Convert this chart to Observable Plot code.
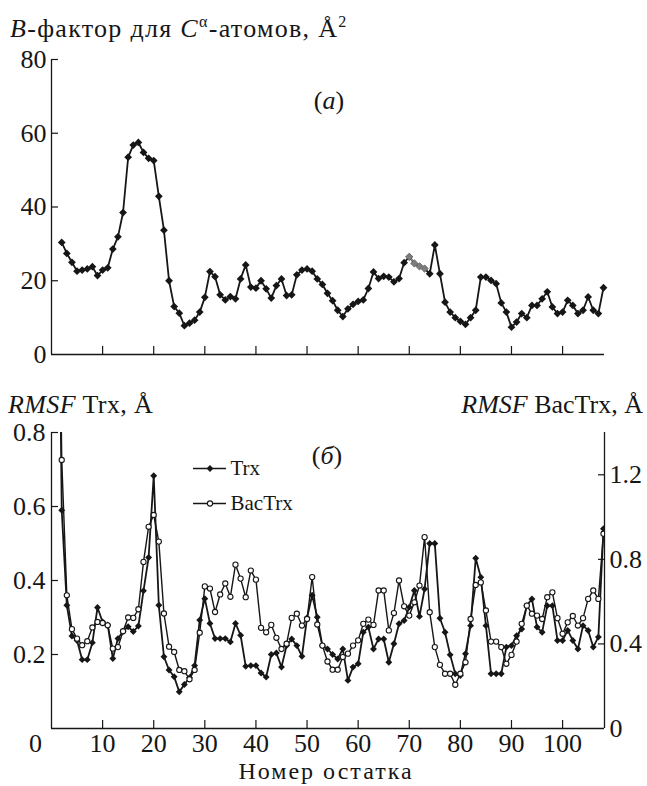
<!DOCTYPE html>
<html><head><meta charset="utf-8">
<script src="https://cdn.jsdelivr.net/npm/d3@7"></script>
<script src="https://cdn.jsdelivr.net/npm/@observablehq/plot@0.6"></script>
<style>
body{margin:0;background:#fff;}
#root{position:relative;width:647px;height:786px;overflow:hidden;font-family:"Liberation Serif","Times New Roman",serif;color:#161616;}
.lbl{position:absolute;white-space:nowrap;font-size:26px;line-height:1;}
.lbl sup{font-size:0.62em;line-height:0;position:relative;top:-0.05em;}
.abs{position:absolute;}
</style></head><body><div id="root"></div>
<script>
// ---------- data ----------
const topFirstResidue = 2;
const bFactor = [30.4,27.4,25,22.6,22.9,23.2,23.8,21.4,22.9,23.5,28.6,31.9,38.5,53.5,56.8,57.5,54.8,53.2,52.6,42.9,
  33.7,20,13,11.2,7.8,8.5,9.3,11.5,15.5,22.5,21.1,16.2,14.8,15.7,15.1,20.5,24.3,18.3,18,20,
  17.8,15.3,18.7,20.5,16,16.2,21.6,22.9,23.2,22.6,20.5,19,16.6,14.6,12,10.3,12.4,13.6,14.4,14.8,
  17.9,22.4,20.6,21.2,21,19.7,20.6,24.9,26.5,24.7,23.9,23.3,21.9,29.7,21.9,14.2,11.5,10,9,8.2,
  10,12,21,21,20.1,19.2,14,11.5,7.4,8.8,11.1,10,13.3,13.3,15.1,17,12.9,11.1,11.5,14.7,
  13.3,11.1,12,15.6,12,11.1,18.1];
const highlightedResidues = [70,71,72,73];

const rmsfFirstResidue = 1;
const trxRmsf = [1.9,0.59,0.333,0.25,0.238,0.186,0.186,0.232,0.327,0.288,0.28,0.189,0.243,0.263,0.275,0.262,0.277,0.372,0.462,0.683,
  0.333,0.194,0.158,0.14,0.099,0.119,0.137,0.17,0.293,0.351,0.284,0.243,0.243,0.243,0.234,0.284,0.252,0.168,0.17,0.17,
  0.15,0.139,0.2,0.204,0.166,0.224,0.242,0.224,0.195,0.299,0.36,0.301,0.224,0.215,0.2,0.188,0.215,0.13,0.166,0.175,
  0.26,0.274,0.215,0.242,0.242,0.179,0.229,0.283,0.292,0.328,0.373,0.303,0.377,0.5,0.5,0.298,0.26,0.199,0.148,0.143,
  0.202,0.278,0.46,0.409,0.278,0.148,0.148,0.148,0.22,0.224,0.251,0.269,0.332,0.35,0.274,0.26,0.332,0.332,0.238,0.238,
  0.265,0.238,0.215,0.278,0.265,0.22,0.247,0.54];
const bacTrxRmsf = [3.2,1.27,0.63,0.47,0.425,0.394,0.413,0.478,0.504,0.499,0.488,0.378,0.385,0.46,0.525,0.523,0.564,0.788,0.954,1.01,
  0.884,0.544,0.387,0.362,0.277,0.271,0.233,0.277,0.453,0.672,0.662,0.551,0.634,0.686,0.623,0.775,0.709,0.621,0.747,0.704,
  0.476,0.455,0.49,0.429,0.376,0.401,0.523,0.543,0.487,0.518,0.716,0.492,0.392,0.317,0.278,0.278,0.338,0.354,0.392,0.417,
  0.495,0.515,0.49,0.653,0.653,0.464,0.546,0.7,0.578,0.534,0.597,0.676,0.905,0.55,0.385,0.301,0.259,0.259,0.207,0.259,
  0.313,0.518,0.679,0.691,0.558,0.411,0.411,0.385,0.306,0.348,0.411,0.495,0.581,0.543,0.534,0.518,0.621,0.644,0.522,0.448,
  0.502,0.532,0.487,0.522,0.613,0.653,0.613,0.921];

const seriesNames = ["Trx", "BacTrx"];
const xTicks = [10,20,30,40,50,60,70,80,90,100];
const bTicks = [0,20,40,60,80];
const leftTicks = [0.2,0.4,0.6,0.8];
const rightTicks = [0,0.4,0.8,1.2];
const xMax = 108.2;
const leftMax = 0.8, rightMax = 1.4;

// ---------- build ----------
const ink = "#161616";
const grey = "#7c7c7c";
const ratio = rightMax / leftMax;
const font = "'Liberation Serif','Times New Roman',serif";
const root = document.getElementById("root");

function place(node, left, top) {
  const wrap = document.createElement("div");
  wrap.className = "abs";
  wrap.style.left = left + "px";
  wrap.style.top = top + "px";
  wrap.appendChild(node);
  root.appendChild(wrap);
}
function label(html, css) {
  const d = document.createElement("div");
  d.className = "lbl";
  d.innerHTML = html;
  Object.assign(d.style, css);
  root.appendChild(d);
}

const topData = bFactor.map((v, i) => ({res: topFirstResidue + i, v}));
const greyData = topData.filter(d => highlightedResidues.includes(d.res));

const topPlot = Plot.plot({
  width: 647, height: 372,
  marginLeft: 51, marginRight: 43, marginTop: 59, marginBottom: 18,
  x: {domain: [0, xMax]},
  y: {domain: [0, 80]},
  style: {fontFamily: font, fontSize: "26px", color: ink, background: "transparent", overflow: "visible"},
  marks: [
    Plot.axisY(bTicks, {tickSize: 0, tickPadding: 5, label: null}),
    Plot.axisY(bTicks.filter(t => t > 0), {tickSize: 7, dx: 7, fill: "none", label: null, strokeWidth: 1.2}),
    Plot.axisX(xTicks, {tickSize: 8, dy: -8, fill: "none", label: null, strokeWidth: 1.2}),
    Plot.ruleX([0], {stroke: ink, strokeWidth: 1.3}),
    Plot.ruleY([0], {stroke: ink, strokeWidth: 1.3}),
    Plot.line(topData, {x: "res", y: "v", stroke: ink, strokeWidth: 1.8}),
    Plot.line(greyData, {x: "res", y: "v", stroke: grey, strokeWidth: 1.8}),
    Plot.dot(topData, {x: "res", y: "v", symbol: "diamond2", r: 3.5, fill: ink, stroke: "none"}),
    Plot.dot(greyData, {x: "res", y: "v", symbol: "diamond2", r: 3.5, fill: grey, stroke: "none"})
  ]
});
place(topPlot, 0, 0);

const trxData = trxRmsf.map((v, i) => ({res: rmsfFirstResidue + i, v}));
const bacData = bacTrxRmsf.map((v, i) => ({res: rmsfFirstResidue + i, v}));
const fmt1 = d => { const r = Math.round(d * ratio * 10) / 10; return r === 0 ? "0" : r.toFixed(1); };

const botPlot = Plot.plot({
  width: 647, height: 406,
  marginLeft: 51, marginRight: 43, marginTop: 52, marginBottom: 58,
  x: {domain: [0, xMax]},
  y: {domain: [0, leftMax]},
  style: {fontFamily: font, fontSize: "26px", color: ink, background: "transparent", overflow: "visible"},
  marks: [
    Plot.axisY(leftTicks, {tickSize: 0, tickPadding: 6, label: null, tickFormat: d3.format(".1f")}),
    Plot.axisY(leftTicks, {tickSize: 7, dx: 7, fill: "none", label: null, strokeWidth: 1.2}),
    Plot.axisY(rightTicks.map(t => t / ratio), {anchor: "right", tickSize: 0, tickPadding: 5, label: null, tickFormat: fmt1}),
    Plot.axisY(rightTicks.filter(t => t > 0).map(t => t / ratio), {anchor: "right", tickSize: 7, dx: -7, fill: "none", label: null, strokeWidth: 1.2}),
    Plot.axisX(xTicks, {tickSize: 0, tickPadding: 5, label: null}),
    Plot.axisX([0], {tickSize: 0, tickPadding: 5, dx: -16, label: null}),
    Plot.axisX(xTicks, {tickSize: 8, dy: -8, fill: "none", label: null, strokeWidth: 1.2}),
    Plot.ruleX([0], {stroke: ink, strokeWidth: 1.3}),
    Plot.ruleX([xMax], {stroke: ink, strokeWidth: 1.3}),
    Plot.ruleY([0], {stroke: ink, strokeWidth: 1.3}),
    Plot.line(bacData, {x: "res", y: d => d.v / ratio, stroke: ink, strokeWidth: 1.4, clip: true}),
    Plot.line(trxData, {x: "res", y: "v", stroke: ink, strokeWidth: 1.8, clip: true}),
    Plot.dot(trxData, {x: "res", y: "v", symbol: "diamond2", r: 3.1, fill: ink, stroke: "none", clip: true}),
    Plot.dot(bacData, {x: "res", y: d => d.v / ratio, symbol: "circle", r: 2.6, fill: "white", stroke: ink, strokeWidth: 1.1, clip: true})
  ]
});
place(botPlot, 0, 380);

const legend = Plot.plot({
  width: 120, height: 67,
  marginLeft: 7, marginRight: 80, marginTop: 16, marginBottom: 16,
  x: {domain: [0, 1], axis: null},
  y: {domain: seriesNames, type: "point", padding: 0, axis: null},
  style: {fontFamily: font, fontSize: "21px", color: ink, background: "transparent", overflow: "visible"},
  marks: [
    Plot.ruleY(seriesNames, {y: d => d, stroke: ink, strokeWidth: 1.7}),
    Plot.dot([seriesNames[0]], {y: d => d, frameAnchor: "middle", symbol: "diamond2", r: 3.1, fill: ink, stroke: "none"}),
    Plot.dot([seriesNames[1]], {y: d => d, frameAnchor: "middle", symbol: "circle", r: 2.6, fill: "white", stroke: ink, strokeWidth: 1.1}),
    Plot.text(seriesNames, {y: d => d, text: d => d, frameAnchor: "right", textAnchor: "start", dx: 4, fill: ink})
  ]
});
place(legend, 186, 452);

// ---------- texts ----------
label("<i>B</i>-фактор для <i>C</i><sup>α</sup>-атомов, Å<sup>2</sup>", {left: "10px", top: "16px", letterSpacing: "1.3px"});
label("(<i>а</i>)", {left: "329px", top: "88px", transform: "translateX(-50%)"});
label("<i>RMSF</i> Trx, Å", {left: "8px", top: "392px", letterSpacing: "0.4px"});
label("<i>RMSF</i> BacTrx, Å", {right: "4px", top: "392px"});
label("(<i>б</i>)", {left: "327px", top: "443px", transform: "translateX(-50%)"});
label("Номер остатка", {left: "326px", top: "758.5px", transform: "translateX(-50%)", letterSpacing: "2px", fontSize: "24px"});
</script>
</body></html>
